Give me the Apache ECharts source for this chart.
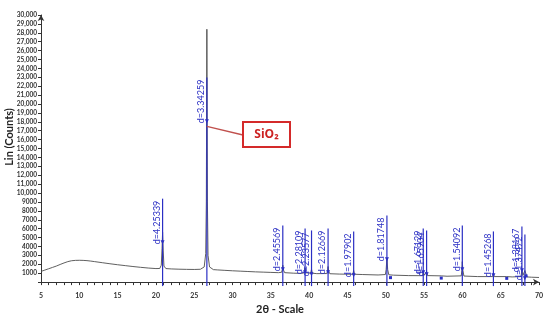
<!DOCTYPE html>
<html><head><meta charset="utf-8">
<script src="https://cdn.jsdelivr.net/npm/echarts@6/dist/echarts.min.js"></script>
<style>html,body{margin:0;padding:0;background:#fff}#c{width:550px;height:320px}</style>
</head><body><div id="c"></div>
<script>
// Measured XRD pattern: [2θ, counts]
var patternTheta = [5,5.5,6,6.5,7,7.5,8,8.5,9,9.5,10,10.5,11,11.5,12,13,14,15,16,17,18,19,20,20.5,20.7,20.8,20.87,20.95,21.05,21.3,22,23,24,25,25.8,26.3,26.5,26.58,26.65,26.72,26.8,27.0,27.5,28,29,30,31,32,33,34,35,36,36.4,36.5,36.56,36.65,36.8,38,39,39.38,39.47,39.56,40.2,40.31,40.4,41,42.3,42.4,42.47,42.55,42.7,44,45.7,45.81,45.92,47,49,49.95,50.05,50.15,50.25,50.4,50.62,51,53,54.8,54.89,55,55.25,55.33,55.45,57.24,58,59.85,59.93,59.99,60.07,60.2,62,63.95,64.05,64.15,65.79,66.5,67.65,67.77,67.9,68.16,68.31,68.45,69,70];
var patternCounts = [1200,1350,1500,1650,1800,1980,2150,2300,2400,2440,2450,2440,2410,2360,2300,2180,2060,1950,1850,1750,1660,1580,1520,1530,1900,3800,5600,3500,1800,1520,1480,1450,1430,1420,1440,1700,3200,9000,28400,9000,3000,1700,1400,1370,1320,1270,1230,1190,1150,1120,1090,1060,1100,1400,1900,1350,1060,1000,980,1050,1600,1050,1000,1450,1000,950,960,1200,1750,1200,940,900,880,1300,880,850,800,850,1400,2700,1400,820,900,780,730,720,1150,760,760,1200,730,700,660,700,1300,2300,1300,680,620,620,1000,620,620,580,620,1400,750,1300,900,580,550,520];

// Labelled d-spacing sticks
var stickTheta = [20.87,26.65,36.56,39.47,40.31,42.47,45.81,50.15,54.89,55.33,59.99,64.05,67.77,68.16];
var stickCounts = [4350,17950,1340,1000,780,1000,670,2450,1000,780,1340,670,1230,330];
var stickLabels = ['d=4.25339','d=3.34259','d=2.45569','d=2.28109','d=2.23577','d=2.12669','d=1.97902','d=1.81748','d=1.67129','d=1.65904','d=1.54092','d=1.45268','d=1.38167','d=1.37472'];

// Unlabelled reference markers
var minorTheta = [50.62,57.24,65.79,68.31];
var minorCounts = [500,450,420,700];

var xTicks = [5,10,15,20,25,30,35,40,45,50,55,60,65,70];

var BLUE = '#2b2fc4';
var LABEL_FONT = '9px Lato';
var mctx = document.createElement('canvas').getContext('2d');
mctx.font = LABEL_FONT;

var chart = echarts.init(document.getElementById('c'), null, {renderer:'canvas'});

function fmtY(v){
  if (v === 0) return '';
  if (v >= 10000) return String(v).replace(/\B(?=(\d{3})+(?!\d))/g, ',');
  return String(v);
}

var option = {
  animation:false,
  backgroundColor:'#fff',
  grid:{left:41, right:11, top:15, bottom:35, containLabel:false},
  xAxis:{
    type:'value', min:5, max:70, interval:5,
    name:'2θ - Scale', nameLocation:'middle', nameGap:19,
    nameTextStyle:{fontFamily:'Lato', fontWeight:'bold', fontSize:11, color:'#222', padding:[0,20,0,0]},
    axisLine:{show:true, lineStyle:{color:'#333', width:1}, symbol:['none','arrow'], symbolSize:[5,6]},
    axisTick:{show:true, length:3, lineStyle:{color:'#333'}},
    minorTick:{show:true, splitNumber:5, length:3, lineStyle:{color:'#333'}},
    axisLabel:{fontFamily:'Lato', fontWeight:'bold', fontSize:7, color:'#333', margin:10,
      formatter:function(v){return xTicks.indexOf(v)>=0 ? String(v) : '';}},
    splitLine:{show:false}
  },
  yAxis:{
    type:'value', min:0, max:30000, interval:1000,
    name:'', 
    axisLine:{show:true, lineStyle:{color:'#333', width:1}, symbol:['none','arrow'], symbolSize:[5,6]},
    axisTick:{show:true, length:3, lineStyle:{color:'#333'}},
    axisLabel:{fontFamily:'Lato', fontWeight:'bold', fontSize:6.5, color:'#333', margin:4, formatter:fmtY},
    splitLine:{show:false}
  },
  series:[
    {
      type:'line', data:patternTheta.map(function(t,i){return [t, patternCounts[i]];}),
      showSymbol:false, symbol:'none', lineStyle:{color:'#4d4d4d', width:0.9}, z:2
    },
    {
      type:'custom', z:3,
      data:stickTheta.map(function(t,i){return [t, stickCounts[i]];}),
      encode:{x:0, y:1},
      renderItem:function(params, api){
        var x = api.value(0), v = api.value(1);
        var p0 = api.coord([x, 0]), p = api.coord([x, v]);
        var txt = stickLabels[params.dataIndex];
        var top = p[1] - mctx.measureText(txt).width - 1;
        return {type:'group', children:[
          {type:'line', shape:{x1:p0[0], y1:p0[1]+4, x2:p0[0], y2:top}, style:{stroke:BLUE, lineWidth:1.2}},
          {type:'polygon', shape:{points:[[p[0]-2,p[1]-3],[p[0]+2,p[1]-3],[p[0],p[1]+1]]}, style:{fill:BLUE}},
          {type:'text', x:p[0]-1, y:p[1]+1, rotation:Math.PI/2,
            style:{text:txt, fill:BLUE, font:LABEL_FONT, align:'left', verticalAlign:'bottom'}}
        ]};
      }
    },
    {
      type:'custom', z:3,
      data:minorTheta.map(function(t,i){return [t, minorCounts[i]];}),
      encode:{x:0, y:1},
      renderItem:function(params, api){
        var p = api.coord([api.value(0), api.value(1)]);
        return {type:'rect', shape:{x:p[0]-1.5, y:p[1]-1.5, width:3, height:3}, style:{fill:BLUE}};
      }
    }
  ]
};
chart.setOption(option);

var a = chart.convertToPixel({gridIndex:0}, [stickTheta[1], stickCounts[1]]);
chart.setOption({graphic:[
  {type:'text', x:9, y:137, rotation:Math.PI/2, style:{text:'Lin (Counts)', fill:'#222', font:'bold 11px Lato', align:'center', verticalAlign:'middle'}},
  {type:'line', shape:{x1:a[0], y1:a[1]+4, x2:243, y2:135}, style:{stroke:'#c0504d', lineWidth:1.3}, z:10},
  {type:'rect', shape:{x:243, y:122, width:47, height:25}, style:{fill:'#fff', stroke:'#d42a2a', lineWidth:2}, z:10},
  {type:'text', x:266.5, y:135, style:{text:'SiO₂', fill:'#cc2222', font:'bold 12px "Open Sans"', align:'center', verticalAlign:'middle'}, z:11}
]});
</script></body></html>
